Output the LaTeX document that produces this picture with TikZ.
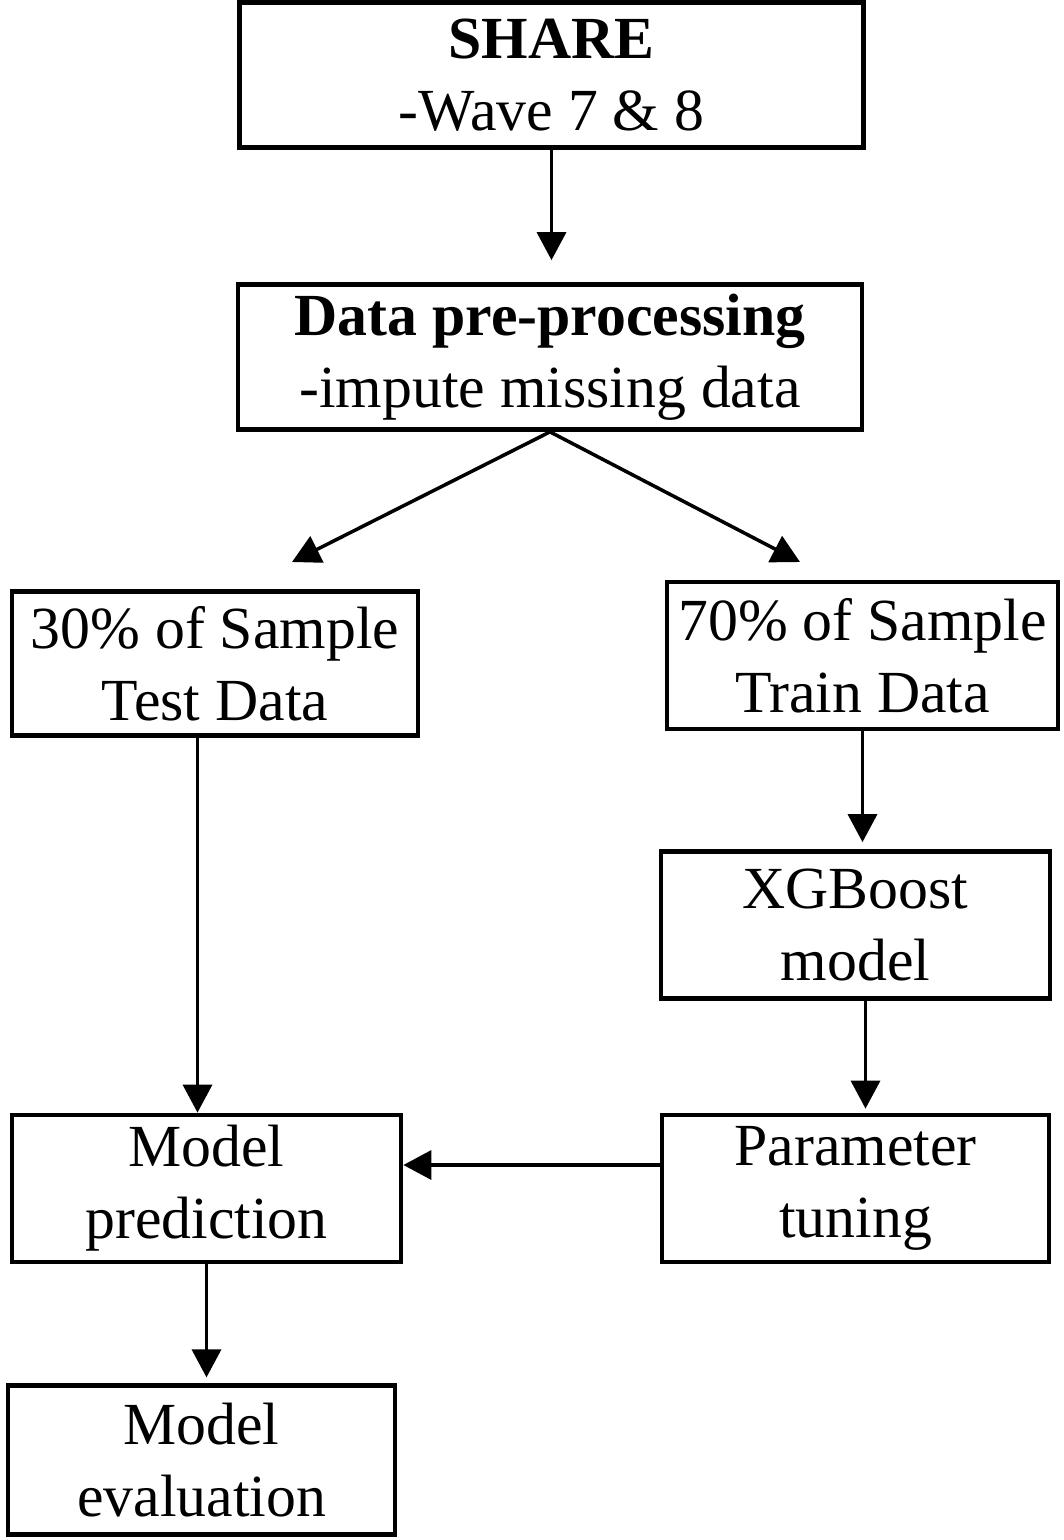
\documentclass[tikz,border=0pt]{standalone}
\usepackage{fontspec}
\setmainfont{Liberation Serif}
\usepackage{tikz}
\usetikzlibrary{arrows.meta,positioning,shapes}
\tikzstyle{arrow} = [line width=2pt,-{Triangle[length=0.56cm,width=0.58cm]},color=black]
\tikzstyle{stagebox} = [rectangle, minimum width=7.78cm, minimum height=2.94cm, inner sep=0pt, text centered, align=center, draw=black, line width=2.7pt, font=\fontsize{34}{41}\selectfont]

\begin{document}
\begin{tikzpicture}
\useasboundingbox (0,0) rectangle (21.26,-30.8);
% Source
\node[stagebox, minimum width=12.48cm, minimum height=2.9cm] (share) at (11.03,-1.50) {\textbf{SHARE}\\-Wave 7 \& 8};
\node[stagebox, minimum width=12.48cm, minimum height=2.9cm] (prep) at (11.00,-7.14) {\textbf{Data pre-processing}\\-impute missing data};

% Split
\node[stagebox, minimum width=8.12cm, minimum height=2.88cm] (test) at (4.30,-13.27) {30\% of Sample\\Test Data};
\node[stagebox, minimum width=7.82cm] (train) at (17.25,-13.11) {70\% of Sample\\Train Data};
\coordinate (testend) at (5.84,-11.24);
\coordinate (trainend) at (16.00,-11.24);

% Training branch
\node[stagebox] (xgb) at (17.11,-18.50) {XGBoost\\model};
\node[stagebox, minimum width=7.74cm] (tuning) at (17.11,-23.77) {Parameter\\tuning};

% Prediction
\node[stagebox] (pred) at (4.13,-23.77) {Model\\prediction};
\node[stagebox, minimum width=7.74cm, minimum height=2.97cm] (eval) at (4.03,-29.20) {Model\\evaluation};

\draw[arrow, shorten >=0.44cm] (share.south) -- (share.south |- prep.north);
\draw[arrow] (prep.south) -- (testend);
\draw[arrow] (prep.south) -- (trainend);
\draw[arrow] ([xshift=-0.35cm]test.south) -- ([xshift=-0.35cm]test.south |- pred.north);
\draw[arrow, shorten >=0.14cm] (train.south) -- (train.south |- xgb.north);
\draw[arrow, shorten >=0.08cm] ([xshift=0.2cm]xgb.south) -- ([xshift=0.2cm]xgb.south |- tuning.north);
\draw[arrow] ([yshift=0.47cm]tuning.west) -- ([yshift=0.47cm]tuning.west -| pred.east);
\draw[arrow, shorten >=0.12cm] (pred.south) -- (pred.south |- eval.north);
\end{tikzpicture}
\end{document}
